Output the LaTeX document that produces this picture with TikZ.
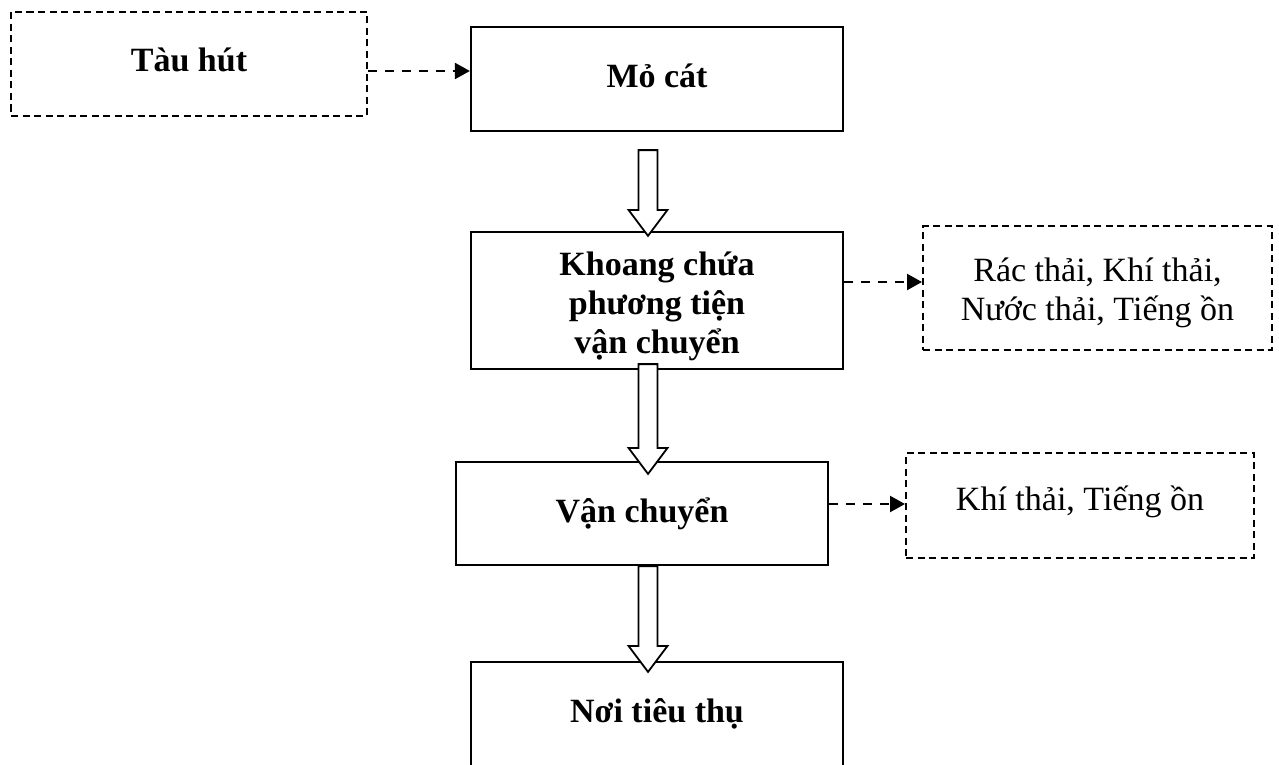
\documentclass[tikz,border=0pt]{standalone}
\usepackage{fontspec}
\setmainfont{Liberation Serif}
\usetikzlibrary{arrows.meta,calc}
\newcommand{\hollowArrow}[2]{%
  \draw[hollow] ($(#1)+(-9.5,0)$) -- ($(#2)+(-9.5,-26)$) -- ($(#2)+(-19.5,-26)$) -- (#2)
    -- ($(#2)+(19.5,-26)$) -- ($(#2)+(9.5,-26)$) -- ($(#1)+(9.5,0)$) -- cycle;}
\newcommand{\txt}[2]{\raisebox{#1pt}[0pt][0pt]{\begin{tabular}[t]{@{}c@{}}#2\end{tabular}}}
\begin{document}
\begin{tikzpicture}[x=1pt,y=-1pt,
  every node/.style={font=\fontsize{34}{39}\selectfont},
  mainbox/.style={draw, line width=2.2pt, rectangle, inner sep=0pt, font=\fontsize{34}{39}\selectfont\bfseries},
  dbox/.style={draw, line width=2pt, dash pattern=on 7pt off 4.5pt, rectangle, inner sep=0pt},
  hollow/.style={draw, fill=white, line width=1.8pt, line join=miter},
  dasharrow/.style={line width=2.2pt, dash pattern=on 9pt off 8pt, -{Triangle[length=15pt,width=16pt]}}]
\useasboundingbox (0,0) rectangle (1279,765);
\fill[white] (0,0) rectangle (1279,765);

\node[dbox, minimum width=356pt, minimum height=104pt, font=\fontsize{34}{39}\selectfont\bfseries] (tau) at (189,64) {\txt{-8}{Tàu hút}};
\node[mainbox, minimum width=372pt, minimum height=104pt] (mo) at (657,79) {\txt{-9}{Mỏ cát}};
\node[mainbox, minimum width=372pt, minimum height=137pt] (kh) at (657,300.5)
  {\txt{25.5}{\smash{Khoang chứa}\\ \smash{phương tiện}\\ \smash{vận chuyển}}};
\node[dbox, minimum width=349pt, minimum height=124pt] (ra) at (1097.5,288)
  {\txt{7}{\smash{Rác thải, Khí thải,}\\ \smash{Nước thải, Tiếng ồn}}};
\node[mainbox, minimum width=372pt, minimum height=103pt] (van) at (642,513.5) {\txt{-8.5}{Vận chuyển}};
\node[dbox, minimum width=348pt, minimum height=105pt] (khi) at (1080,505.5) {\txt{-5}{Khí thải, Tiếng ồn}};
\node[mainbox, minimum width=372pt, minimum height=128pt] (noi) at (657,726) {\txt{4}{Nơi tiêu thụ}};

\draw[dasharrow] ([yshift=-7pt]tau.east) -- ([yshift=-7pt]tau.east -| mo.west);
\draw[dasharrow] ([yshift=18.5pt]kh.east) -- ([yshift=18.5pt]kh.east -| ra.west);
\draw[dasharrow] ([yshift=9.5pt]van.east) -- ([yshift=9.5pt]van.east -| khi.west);

\coordinate (a1s) at ($(mo.south)+(-9,18)$);
\coordinate (a1e) at ($(kh.north)+(-9,5)$);
\coordinate (a2s) at ($(kh.south)+(-9,-6)$);
\coordinate (a2e) at ($(van.north)+(6,13)$);
\coordinate (a3s) at ($(van.south)+(6,0)$);
\coordinate (a3e) at ($(noi.north)+(-9,11)$);
\hollowArrow{a1s}{a1e}
\hollowArrow{a2s}{a2e}
\hollowArrow{a3s}{a3e}
\end{tikzpicture}
\end{document}
